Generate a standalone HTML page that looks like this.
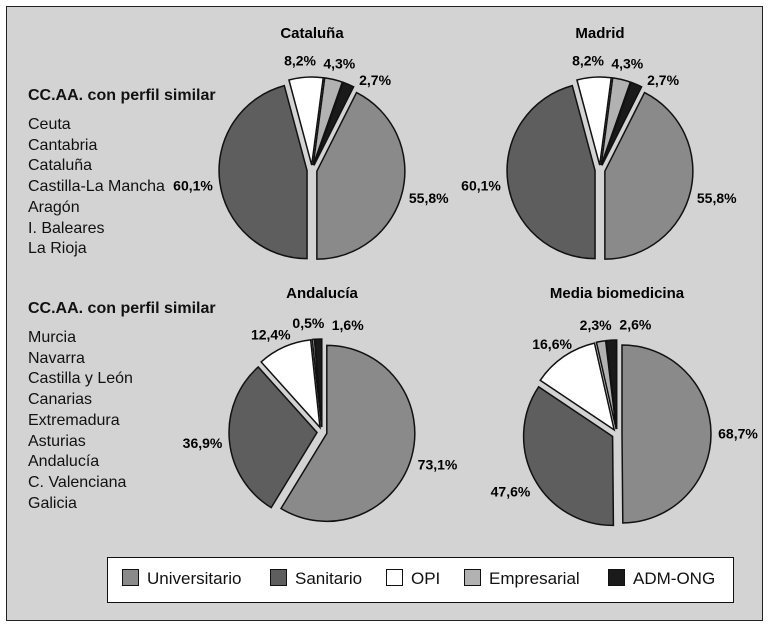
<!DOCTYPE html>
<html><head><meta charset="utf-8"><style>
body{margin:0;width:769px;height:630px;background:#fff;font-family:"Liberation Sans",sans-serif;}
#frame{position:absolute;left:6px;top:6px;width:755px;height:613px;border:1px solid #222;background:#d3d3d3;}
.t{position:absolute;font-size:16px;color:#111;}
.h{font-weight:bold;}
#legend{position:absolute;left:107px;top:557px;width:625px;height:44px;border:1px solid #111;background:#fff;}
.li{position:absolute;top:11px;font-size:17px;color:#111;}
.sw{display:inline-block;width:15px;height:15px;border:1px solid #111;vertical-align:-2px;margin-right:8px;}
</style></head><body>
<div id="frame"></div>
<div class="t h" style="left:28px;top:87px">CC.AA. con perfil similar</div>
<div class="t" style="left:28px;top:115px;line-height:20.7px">Ceuta<br>Cantabria<br>Cataluña<br>Castilla-La Mancha<br>Aragón<br>I. Baleares<br>La Rioja</div>
<div class="t h" style="left:28px;top:300px">CC.AA. con perfil similar</div>
<div class="t" style="left:28px;top:328px;line-height:20.7px">Murcia<br>Navarra<br>Castilla y León<br>Canarias<br>Extremadura<br>Asturias<br>Andalucía<br>C. Valenciana<br>Galicia</div>
<svg id="svg" width="769" height="630" style="position:absolute;left:0;top:0"></svg>
<div id="legend">
<span class="li" style="left:14px"><span class="sw" style="background:#8a8a8a"></span>Universitario</span>
<span class="li" style="left:162px"><span class="sw" style="background:#5e5e5e"></span>Sanitario</span>
<span class="li" style="left:278px"><span class="sw" style="background:#fff"></span>OPI</span>
<span class="li" style="left:356px"><span class="sw" style="background:#b2b2b2"></span>Empresarial</span>
<span class="li" style="left:500px"><span class="sw" style="background:#1a1a1a"></span>ADM-ONG</span>
</div>
<script>
const categories=["Universitario","Sanitario","OPI","Empresarial","ADM-ONG"];
const chartTitles=["Cataluña","Madrid","Andalucía","Media biomedicina"];
const valuesCataluna=[55.8,60.1,8.2,4.3,2.7];
const valuesMadrid=[55.8,60.1,8.2,4.3,2.7];
const valuesAndalucia=[73.1,36.9,12.4,0.5,1.6];
const valuesMedia=[68.7,47.6,16.6,2.3,2.6];
const colors=["#8a8a8a","#5e5e5e","#ffffff","#b2b2b2","#1a1a1a"];
const layout=[{cx:312,cy:170,r:88,endAtBottom:true},{cx:600,cy:170,r:88,endAtBottom:true},{cx:322,cy:432,r:88,endAtBottom:false},{cx:617,cy:434,r:89,endAtBottom:false}];
const allVals=[valuesCataluna,valuesMadrid,valuesAndalucia,valuesMedia];
const NS="http://www.w3.org/2000/svg";
const svg=document.getElementById('svg');
const FONT='"Liberation Sans",sans-serif';
function pt(cx,cy,r,a){return [cx+r*Math.sin(a),cy-r*Math.cos(a)];}
function addText(x,y,txt,name,size){
  const tx=document.createElementNS(NS,'text');
  
  
  tx.setAttribute('x',x);tx.setAttribute('y',y);
  tx.setAttribute('text-anchor','middle');tx.setAttribute('font-weight','bold');tx.setAttribute('font-size',size);
  tx.setAttribute('font-family',FONT);
  tx.textContent=txt;svg.appendChild(tx);
}
allVals.forEach((vals,ci)=>{
  const L=layout[ci];
  const tot=vals.reduce((a,b)=>a+b,0);
  addText(L.cx,ci<2?38:298,chartTitles[ci],'chart-title',15);
  let a0=L.endAtBottom? Math.PI - vals[0]/tot*2*Math.PI : 0;
  const mids=[],angs=[];
  vals.forEach((v,i)=>{
    const ang=v/tot*2*Math.PI, a1=a0+ang, mid=(a0+a1)/2;
    mids.push(mid);angs.push(ang);
    const off=5, cx=L.cx+off*Math.sin(mid), cy=L.cy-off*Math.cos(mid);
    const p0=pt(cx,cy,L.r,a0), p1=pt(cx,cy,L.r,a1);
    const path=document.createElementNS(NS,'path');
    
    
    path.setAttribute('d',`M${cx},${cy} L${p0[0]},${p0[1]} A${L.r},${L.r} 0 ${ang>Math.PI?1:0} 1 ${p1[0]},${p1[1]} Z`);
    path.setAttribute('fill',colors[i]);path.setAttribute('stroke','#111');path.setAttribute('stroke-width','1.5');
    svg.appendChild(path);
    a0=a1;
  });
  // spread small-slice label angles (indices 2..4)
  let sm=[mids[2],mids[3],mids[4]].map(m=>{let x=m%(2*Math.PI);if(x>Math.PI)x-=2*Math.PI;return x;});
  const gap=0.36;
  for(let k=1;k<3;k++){if(sm[k]-sm[k-1]<gap)sm[k]=sm[k-1]+gap;}
  const origMean=([mids[2],mids[3],mids[4]].map(m=>{let x=m%(2*Math.PI);if(x>Math.PI)x-=2*Math.PI;return x;}).reduce((a,b)=>a+b)/3);
  const newMean=sm.reduce((a,b)=>a+b)/3;
  sm=sm.map(s=>s+(origMean-newMean)+0.06);
  vals.forEach((v,i)=>{
    const label=v.toFixed(1).replace('.',',')+'%';
    let lp;
    if(i>=2) lp=pt(L.cx,L.cy,L.r+22,sm[i-2]);
    else lp=pt(L.cx,L.cy,L.r+32,mids[i]);
    addText(lp[0],lp[1]+5,label,'value-label',14);
  });
});
</script>
</body></html>
